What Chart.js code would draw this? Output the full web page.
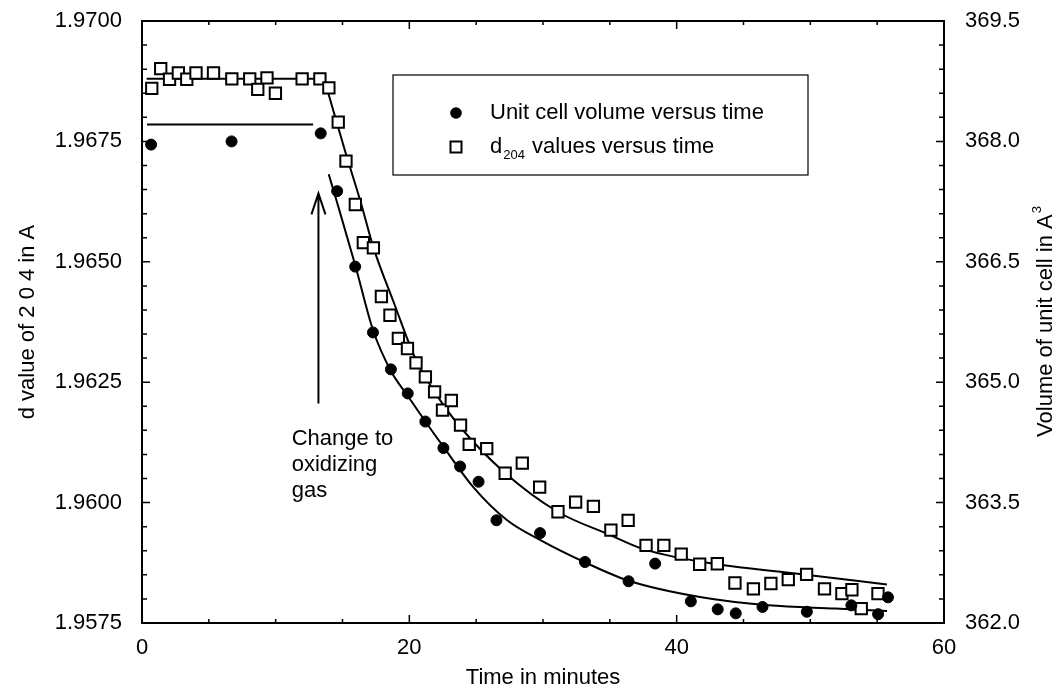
<!DOCTYPE html>
<html lang="en">
<head>
  <meta charset="UTF-8" />
  <title>Unit cell volume and d204 versus time</title>
  <script src="https://cdn.jsdelivr.net/npm/chart.js"></script>
  <style>
    html, body { margin: 0; padding: 0; background: #fff; }
    canvas { display: block; }
  </style>
</head>
<body>
  <canvas id="chart" width="1060" height="691"></canvas>

  <script>
    // ---- values ----
    const xTicks = [0, 20, 40, 60];
    const dTicks = [1.9575, 1.9600, 1.9625, 1.9650, 1.9675, 1.9700];
    const volTicks = [362.0, 363.5, 365.0, 366.5, 368.0, 369.5];

    // d204 values (squares, left axis)
    const sqTime = [0.73, 1.40, 2.06, 2.72, 3.35, 4.04, 5.35, 6.72, 8.06, 8.66, 9.35, 9.98, 11.98, 13.31, 13.98,
      14.68, 15.26, 15.96, 16.56, 17.31, 17.91, 18.55, 19.18, 19.86, 20.50, 21.20, 21.89, 22.48, 23.14, 23.83,
      24.48, 25.79, 27.17, 28.45, 29.75, 31.12, 32.44, 33.77, 35.08, 36.37, 37.71, 39.04, 40.34, 41.72, 43.04,
      44.36, 45.74, 47.05, 48.35, 49.72, 51.06, 52.36, 53.11, 53.81, 55.06];
    const sqD = [1.96860, 1.96901, 1.96879, 1.96892, 1.96879, 1.96892, 1.96892, 1.96880, 1.96880, 1.96858, 1.96882, 1.96850, 1.96880, 1.96880, 1.96861,
      1.96790, 1.96709, 1.96619, 1.96540, 1.96529, 1.96428, 1.96389, 1.96341, 1.96320, 1.96290, 1.96261, 1.96230, 1.96192, 1.96212, 1.96161,
      1.96121, 1.96112, 1.96061, 1.96082, 1.96032, 1.95981, 1.96001, 1.95992, 1.95943, 1.95963, 1.95911, 1.95911, 1.95893, 1.95872, 1.95873,
      1.95833, 1.95821, 1.95832, 1.95840, 1.95851, 1.95821, 1.95811, 1.95819, 1.95780, 1.95811];

    // unit cell volume (circles, right axis)
    const cTime = [0.68, 6.70, 13.37, 14.60, 15.95, 17.28, 18.62, 19.88, 21.20, 22.55, 23.80, 25.18, 26.52,
      29.78, 33.14, 36.40, 38.39, 41.06, 43.07, 44.42, 46.42, 49.74, 53.07, 55.07, 55.81];
    const cVol = [367.96, 368.00, 368.10, 367.38, 366.44, 365.62, 365.16, 364.86, 364.51, 364.18, 363.95, 363.76, 363.28,
      363.12, 362.76, 362.52, 362.74, 362.27, 362.17, 362.12, 362.20, 362.14, 362.22, 362.11, 362.32];

    // fitted curves
    const dFlatTime = [0.35, 13.63];
    const dFlat = [1.96880, 1.96880];
    const dFitTime = [13.63, 15.17, 16.39, 17.31, 18.83, 20.50, 21.89, 23.78, 27.10, 31.10, 35.08, 37.34, 41.84, 49.35, 55.73];
    const dFit = [1.96880, 1.96732, 1.96621, 1.96530, 1.96416, 1.96296, 1.96230, 1.96158, 1.96063, 1.95981, 1.95932, 1.95905, 1.95877, 1.95851, 1.95830];

    const vFlatTime = [0.38, 12.80];
    const vFlat = [368.21, 368.21];
    const vFitTime = [13.97, 14.54, 15.95, 17.28, 18.62, 19.88, 21.20, 22.53, 24.80, 27.32, 29.84, 33.09, 36.35, 41.86, 46.87, 51.86, 55.74];
    const vFit = [367.59, 367.27, 366.46, 365.65, 365.14, 364.83, 364.51, 364.20, 363.69, 363.28, 363.03, 362.76, 362.53, 362.32, 362.22, 362.18, 362.15];

    // annotation: arrow at the gas change, in data units (time, d)
    const arrowTime = 13.2;
    const arrowFrom = 1.96206;
    const arrowTo = 1.96642;
    const noteTime = 11.2;
    const noteD = 1.96133;
    const noteLines = ['Change to', 'oxidizing', 'gas'];

    const FONT = "'Liberation Sans', Arial, Helvetica, sans-serif";
    Chart.defaults.font.family = FONT;
    Chart.defaults.font.size = 22;
    Chart.defaults.color = '#000';

    const toXY = (xs, ys) => xs.map((x, i) => ({ x: x, y: ys[i] }));

    // box, inward ticks, legend, arrow and right title
    const framePlugin = {
      id: 'frame',
      beforeDatasetsDraw(chart) {
        const { ctx, chartArea: a, scales } = chart;
        ctx.save();
        ctx.strokeStyle = '#000';
        ctx.lineWidth = 2;
        ctx.strokeRect(a.left, a.top, a.width, a.height);
        ctx.lineWidth = 1.5;
        ctx.beginPath();
        for (let v = 0; v <= 60; v += 5) {
          const px = scales.x.getPixelForValue(v);
          const len = v % 20 === 0 ? 8 : 4;
          ctx.moveTo(px, a.bottom); ctx.lineTo(px, a.bottom - len);
          ctx.moveTo(px, a.top); ctx.lineTo(px, a.top + len);
        }
        for (let i = 0; i <= 25; i++) {
          const len = i % 5 === 0 ? 8 : 5;
          const pl = scales.y.getPixelForValue(1.9575 + i * 0.0005);
          ctx.moveTo(a.left, pl); ctx.lineTo(a.left + len, pl);
          const pr = scales.y1.getPixelForValue(362 + i * 0.3);
          ctx.moveTo(a.right, pr); ctx.lineTo(a.right - len, pr);
        }
        ctx.stroke();
        ctx.restore();
      },
      afterDatasetsDraw(chart) {
        const { ctx, chartArea: a, scales } = chart;
        ctx.save();
        ctx.strokeStyle = '#000';
        ctx.fillStyle = '#000';

        // legend box
        ctx.lineWidth = 1.2;
        ctx.strokeRect(393, 75, 415, 100);
        ctx.beginPath();
        ctx.arc(456, 113, 5.8, 0, Math.PI * 2);
        ctx.fill();
        ctx.lineWidth = 2;
        ctx.strokeRect(450.5, 141.5, 11, 11);
        ctx.font = '22px ' + FONT;
        ctx.textBaseline = 'middle';
        ctx.textAlign = 'left';
        ctx.fillText('Unit cell volume versus time', 490, 113);
        ctx.fillText('d', 490, 147);
        let w = ctx.measureText('d').width;
        ctx.font = '13px ' + FONT;
        ctx.fillText('204', 490 + w + 1, 155);
        const w2 = ctx.measureText('204').width;
        ctx.font = '22px ' + FONT;
        ctx.fillText(' values versus time', 490 + w + w2 + 2, 147);

        // arrow
        const ax = scales.x.getPixelForValue(arrowTime);
        const y0 = scales.y.getPixelForValue(arrowFrom);
        const y1 = scales.y.getPixelForValue(arrowTo);
        ctx.lineWidth = 2;
        ctx.beginPath();
        ctx.moveTo(ax, y0); ctx.lineTo(ax, y1);
        ctx.moveTo(ax - 7, y1 + 21); ctx.lineTo(ax, y1); ctx.lineTo(ax + 7, y1 + 21);
        ctx.stroke();

        // note
        const nx = scales.x.getPixelForValue(noteTime);
        const ny = scales.y.getPixelForValue(noteD);
        noteLines.forEach((t, i) => ctx.fillText(t, nx, ny + i * 26));

        // right axis title, reading bottom to top
        ctx.translate(1046, (a.top + a.bottom) / 2);
        ctx.rotate(-Math.PI / 2);
        const main = 'Volume of unit cell in A';
        ctx.font = '22px ' + FONT;
        const mw = ctx.measureText(main).width;
        ctx.font = '13px ' + FONT;
        const sw = ctx.measureText('3').width;
        ctx.font = '22px ' + FONT;
        ctx.fillText(main, -(mw + sw) / 2, 0);
        ctx.font = '13px ' + FONT;
        ctx.fillText('3', -(mw + sw) / 2 + mw + 1, -9);
        ctx.restore();
      }
    };

    // fixed axis sizes so the plot box sits where it does in the original
    const fitV = w => s => { s.width = w; s.paddingTop = 0; s.paddingBottom = 0; };

    const ctx = document.getElementById('chart').getContext('2d');

    new Chart(ctx, {
      type: 'scatter',
      data: {
        datasets: [
          { label: 'd fit flat', data: toXY(dFlatTime, dFlat), yAxisID: 'y', showLine: true,
            pointRadius: 0, borderColor: '#000', borderWidth: 2, order: 6 },
          { label: 'd fit', data: toXY(dFitTime, dFit), yAxisID: 'y', showLine: true, cubicInterpolationMode: 'monotone',
            pointRadius: 0, borderColor: '#000', borderWidth: 2, order: 5 },
          { label: 'volume fit flat', data: toXY(vFlatTime, vFlat), yAxisID: 'y1', showLine: true,
            pointRadius: 0, borderColor: '#000', borderWidth: 2, order: 4 },
          { label: 'volume fit', data: toXY(vFitTime, vFit), yAxisID: 'y1', showLine: true, cubicInterpolationMode: 'monotone',
            pointRadius: 0, borderColor: '#000', borderWidth: 2, order: 3 },
          { label: 'd204 values versus time', data: toXY(sqTime, sqD), yAxisID: 'y',
            pointStyle: 'rect', pointRadius: 8, backgroundColor: '#fff', borderColor: '#000', borderWidth: 2, order: 2 },
          { label: 'Unit cell volume versus time', data: toXY(cTime, cVol), yAxisID: 'y1',
            pointStyle: 'circle', pointRadius: 5.5, backgroundColor: '#000', borderColor: '#000', borderWidth: 1, order: 1 }
        ]
      },
      options: {
        responsive: false,
        animation: false,
        devicePixelRatio: 1,
        events: [],
        layout: { padding: { top: 21, left: 0, right: 0, bottom: 0 } },
        plugins: { legend: { display: false }, tooltip: { enabled: false } },
        scales: {
          x: {
            type: 'linear', min: 0, max: 60,
            afterBuildTicks: s => { s.ticks = xTicks.map(v => ({ value: v })); },
            afterFit: s => { s.height = 68; s.paddingLeft = 0; s.paddingRight = 0; },
            grid: { display: false, drawTicks: false },
            border: { display: false },
            ticks: { padding: 12, maxRotation: 0 },
            title: { display: true, text: 'Time in minutes', padding: { top: 0, bottom: 0 } }
          },
          y: {
            type: 'linear', position: 'left', min: 1.9575, max: 1.97,
            afterBuildTicks: s => { s.ticks = dTicks.map(v => ({ value: v })); },
            afterFit: fitV(142),
            grid: { display: false, drawTicks: false },
            border: { display: false },
            ticks: { padding: 20, callback: v => v.toFixed(4) },
            title: { display: true, text: 'd value of 2 0 4 in A', padding: { top: 15, bottom: 0 } }
          },
          y1: {
            type: 'linear', position: 'right', min: 362, max: 369.5,
            afterBuildTicks: s => { s.ticks = volTicks.map(v => ({ value: v })); },
            afterFit: fitV(116),
            grid: { display: false, drawTicks: false },
            border: { display: false },
            ticks: { padding: 21, callback: v => v.toFixed(1) }
          }
        }
      },
      plugins: [framePlugin]
    });
  </script>
</body>
</html>
